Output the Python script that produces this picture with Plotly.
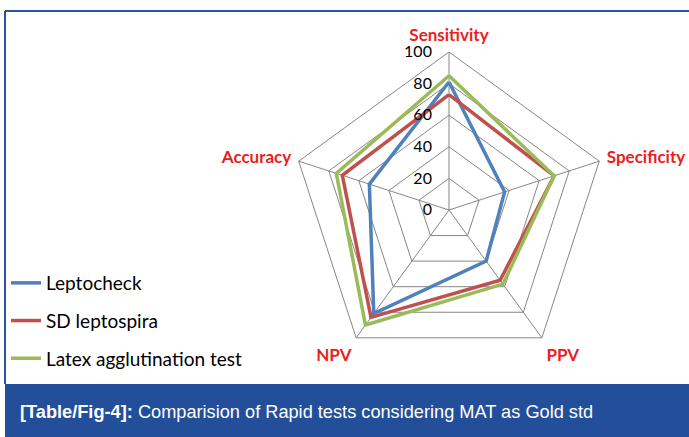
import plotly.graph_objects as go

categories = ["Sensitivity", "Specificity", "PPV", "NPV", "Accuracy"]
series_names = ["Leptocheck", "SD leptospira", "Latex agglutination test"]
leptocheck = [81, 37, 40, 81, 53]
sd_leptospira = [73, 70, 55, 84, 71]
latex = [85, 70, 58, 90, 75]
radial_ticks = [0, 20, 40, 60, 80, 100]
colors = ["#4f81bd", "#c0504d", "#9bbb59"]

W, H = 689, 437
fig = go.Figure()
for i, (name, vals) in enumerate(zip(series_names, [leptocheck, sd_leptospira, latex])):
    fig.add_trace(go.Scatterpolar(
        r=vals + vals[:1], theta=categories + categories[:1],
        mode="lines", name=name, legendgroup=name,
        line=dict(color=colors[i], width=3.5),
    ))

cx, cy, R = 449, 210, 158
fig.update_layout(
    width=W, height=H,
    margin=dict(l=0, r=0, t=0, b=0),
    paper_bgcolor="white",
    showlegend=True,
    legend=dict(x=6 / W, y=1 - 264 / H, xanchor="left", yanchor="top",
                bgcolor="rgba(0,0,0,0)", tracegroupgap=10,
                font=dict(family="Lato", size=19, color="black")),
    polar=dict(
        domain=dict(x=[(cx - R) / W, (cx + R) / W], y=[1 - (cy + R) / H, 1 - (cy - R) / H]),
        bgcolor="white",
        gridshape="linear",
        angularaxis=dict(rotation=90, direction="clockwise",
                         linecolor="#868686", linewidth=1,
                         gridcolor="#868686", gridwidth=1,
                         tickfont=dict(family="Lato", size=17, color="#ee1c1c", weight="bold"),
                         ticks="outside", ticklen=4, tickcolor="rgba(0,0,0,0)"),
        radialaxis=dict(range=[0, 100], tickvals=radial_ticks, angle=90, tickangle=90,
                        showline=False, gridcolor="#868686", gridwidth=1,
                        side="counterclockwise", ticks="outside", ticklen=11,
                        tickcolor="rgba(0,0,0,0)",
                        tickfont=dict(family="Lato", size=16, color="black")),
    ),
    shapes=[
        dict(type="rect", xref="paper", yref="paper", x0=5 / W, x1=1, y0=0, y1=1 - 384 / H,
             fillcolor="#234f9a", line=dict(width=0)),
        dict(type="line", xref="paper", yref="paper", x0=5 / W, x1=1, y0=1 - 11 / H, y1=1 - 11 / H,
             line=dict(color="#2a53a0", width=2)),
        dict(type="line", xref="paper", yref="paper", x0=5 / W, x1=5 / W, y0=1 - 11 / H, y1=1 - 384 / H,
             line=dict(color="#2a53a0", width=2)),
    ],
    annotations=[
        dict(xref="paper", yref="paper", x=18 / W, y=1 - 412 / H, xanchor="left", yanchor="middle",
             showarrow=False,
             text="<b>[Table/Fig-4]:</b> Comparision of Rapid tests considering MAT as Gold std",
             font=dict(family="Liberation Sans", size=18.2, color="white")),
    ],
)
fig.write_html("out.html", config={"displayModeBar": False},
               post_script="document.body.style.margin='0';")
